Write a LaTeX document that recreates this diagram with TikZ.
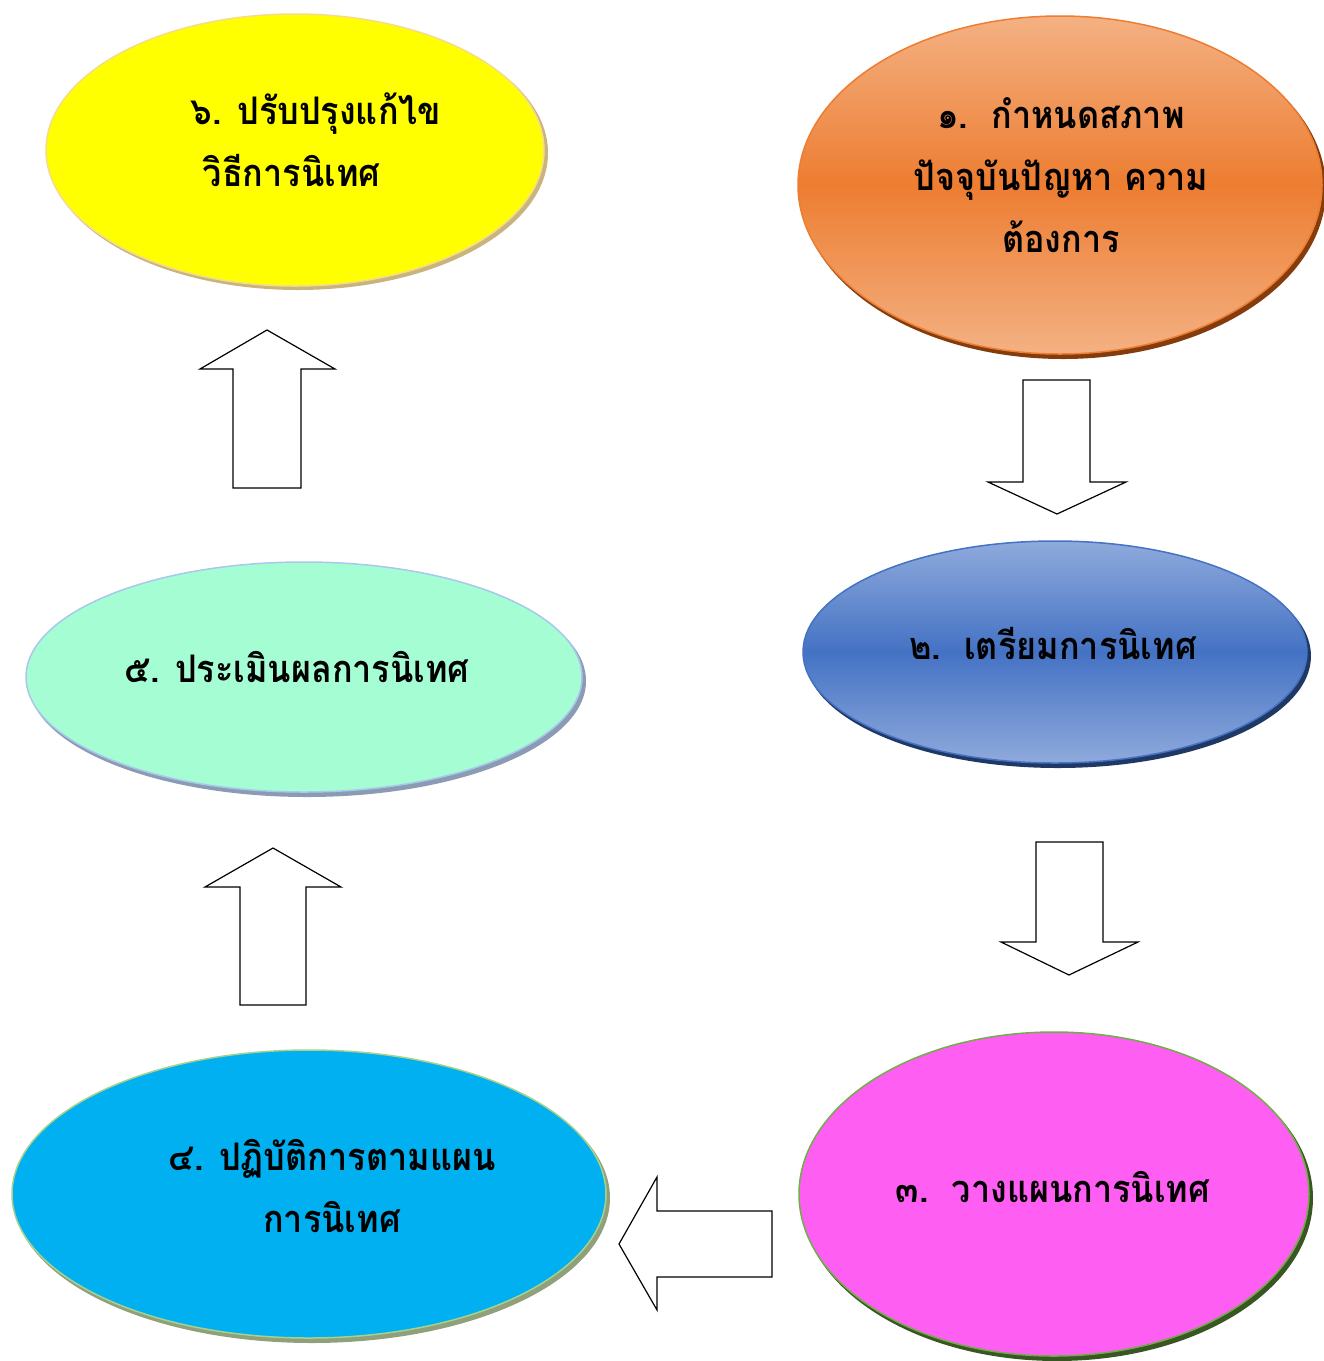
\documentclass[tikz,border=0pt]{standalone}
\usepackage{fontspec}
\newfontfamily\thaifont[Script=Thai,FakeStretch=0.9]{Loma}
\usetikzlibrary{shapes.geometric}
\definecolor{yel}{HTML}{FFFF00}
\definecolor{yelB}{HTML}{F5DC8C}
\definecolor{yelS}{HTML}{C8B47C}
\definecolor{orL}{HTML}{F4B183}
\definecolor{orD}{HTML}{ED7D31}
\definecolor{orS}{HTML}{843C0C}
\definecolor{blL}{HTML}{8FAADC}
\definecolor{blD}{HTML}{4472C4}
\definecolor{blS}{HTML}{1F3864}
\definecolor{mint}{HTML}{A4FDD3}
\definecolor{mintB}{HTML}{A9C8EC}
\definecolor{mintS}{HTML}{8C9BB4}
\definecolor{cyanF}{HTML}{00B0F0}
\definecolor{cyanB}{HTML}{A9D18E}
\definecolor{cyanS}{HTML}{8FA07A}
\definecolor{mag}{HTML}{FF5EF3}
\definecolor{magB}{HTML}{70AD47}
\definecolor{magS}{HTML}{385723}
\tikzset{
  oval/.style={ellipse, inner sep=0pt, line width=1.5pt},
  shadowoval/.style={ellipse, inner sep=0pt},
  blockarrow/.style={draw=black, fill=white, line width=1.2pt, line join=miter},
  label/.style={font=\thaifont\bfseries\fontsize{38}{62}\selectfont, text=black, align=center, inner sep=0pt},
}
\begin{document}
\begin{tikzpicture}[x=1pt,y=-1pt]
\useasboundingbox (0,0) rectangle (1324,1361);
% shadows
\node[shadowoval, fill=yelS, minimum width=500, minimum height=274] (s6) at (298,153) {};
\node[shadowoval, fill=orS, minimum width=526, minimum height=340] (s1) at (1063,189) {};
\node[shadowoval, fill=blS, minimum width=506, minimum height=224] (s2) at (1058,656) {};
\node[shadowoval, fill=mintS, minimum width=558, minimum height=232] (s5) at (307,681) {};
\node[shadowoval, fill=cyanS, minimum width=596, minimum height=290] (s4) at (312,1198) {};
\node[shadowoval, fill=magS, minimum width=512, minimum height=326] (s3) at (1057,1198) {};
% ovals
\node[oval, fill=yel, draw=yelB, minimum width=498, minimum height=272] (e6) at (295,150) {};
\node[oval, top color=orL, bottom color=orL, middle color=orD, draw=orD, minimum width=524, minimum height=338] (e1) at (1060,185) {};
\node[oval, top color=blL, bottom color=blL, middle color=blD, draw=blD, minimum width=504, minimum height=222] (e2) at (1055,652) {};
\node[oval, fill=mint, draw=mintB, minimum width=556, minimum height=230] (e5) at (304,677) {};
\node[oval, fill=cyanF, draw=cyanB, minimum width=594, minimum height=288] (e4) at (309,1194) {};
\node[oval, fill=mag, draw=magB, minimum width=510, minimum height=324] (e3) at (1054,1194) {};
% texts
\node[label, align=left] (t6) at (316,140) {๖. ปรับปรุงแก้ไข\\\hspace*{12pt}วิธีการนิเทศ};
\node[label] (t1) at (1061,175) {๑.~~กำหนดสภาพ\\ปัจจุบันปัญหา ความ\\ต้องการ};
\node[label] (t2) at (1053,643) {๒.~~เตรียมการนิเทศ};
\node[label] (t5) at (297,667) {๕. ประเมินผลการนิเทศ};
\node[label] (t4) at (332,1186) {๔. ปฏิบัติการตามแผน\\การนิเทศ};
\node[label] (t3) at (1053,1187) {๓.~~วางแผนการนิเทศ};
% block arrows
\draw[blockarrow] (267,330) -- (335,369) -- (301,369) -- (301,488) -- (233,488) -- (233,369) -- (200,369) -- cycle;
\draw[blockarrow] (1023,380) -- (1090,380) -- (1090,482) -- (1126,482) -- (1057,514) -- (988,482) -- (1023,482) -- cycle;
\draw[blockarrow] (1036,842) -- (1103,842) -- (1103,942) -- (1138,942) -- (1069,975) -- (1001,942) -- (1036,942) -- cycle;
\draw[blockarrow] (273,848) -- (341,887) -- (306,887) -- (306,1005) -- (240,1005) -- (240,887) -- (205,887) -- cycle;
\draw[blockarrow] (619,1244) -- (657,1177) -- (657,1211) -- (772,1211) -- (772,1277) -- (657,1277) -- (657,1310) -- cycle;
\end{tikzpicture}
\end{document}
